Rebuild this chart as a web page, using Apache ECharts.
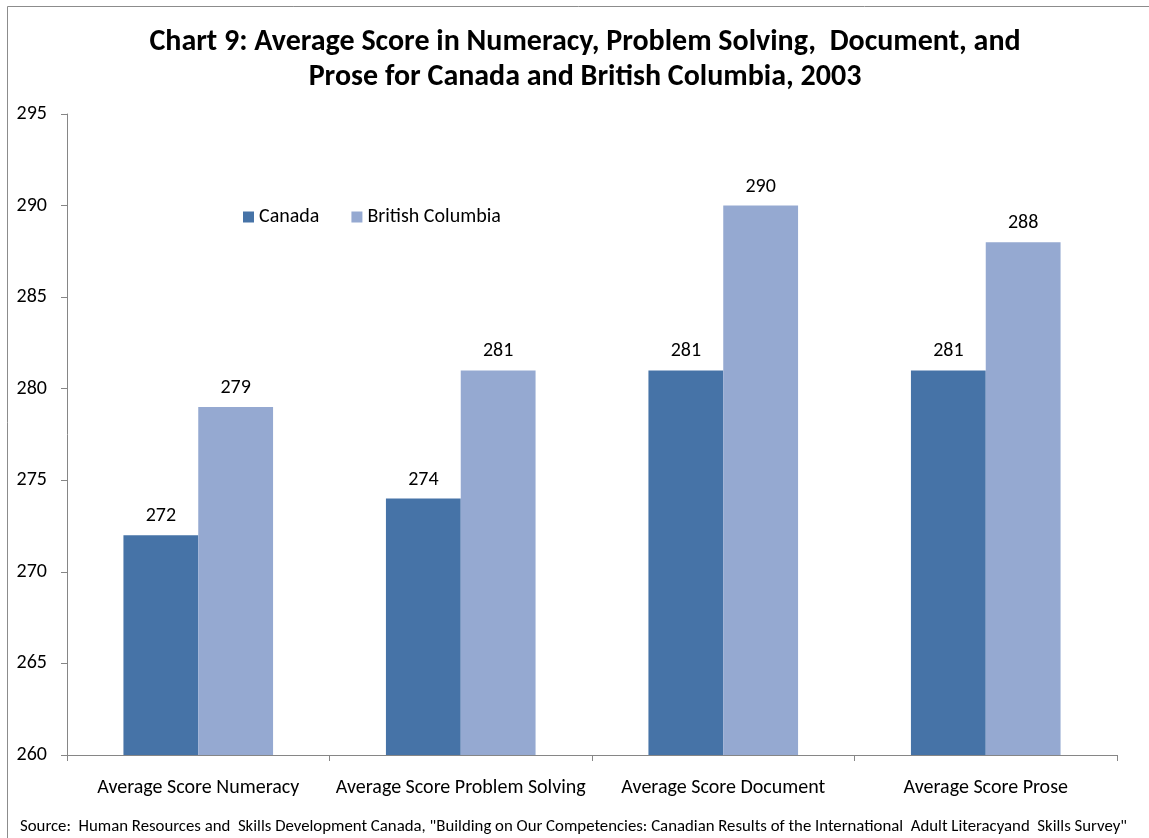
<!DOCTYPE html>
<html>
<head>
<meta charset="UTF-8">
<script src="https://cdn.jsdelivr.net/npm/echarts@6/dist/echarts.min.js"></script>
<style>
  html, body { margin: 0; padding: 0; background: #fff; }
  #main { width: 1149px; height: 838px; }
</style>
</head>
<body>
<div id="main"></div>
<script type="text/javascript">
var categories = ['Average Score Numeracy', 'Average Score Problem Solving', 'Average Score Document', 'Average Score Prose'];
var canada = [272, 274, 281, 281];
var britishColumbia = [279, 281, 290, 288];
var yTicks = [260, 265, 270, 275, 280, 285, 290, 295];

var font = 'Carlito, Lato, "Open Sans", sans-serif';
var chart = echarts.init(document.getElementById('main'));

var option = {
    backgroundColor: '#fff',
    animation: false,
    textStyle: { fontFamily: font },
    title: {
        text: 'Chart 9: Average Score in Numeracy, Problem Solving,  Document, and\nProse for Canada and British Columbia, 2003',
        left: 580,
        top: 20,
        textAlign: 'center',
        textStyle: { fontSize: 30, fontWeight: 'bold', color: '#000', lineHeight: 35, fontFamily: font }
    },
    graphic: [
        // outer frame
        { type: 'rect', shape: { x: 7.5, y: 6.5, width: 1160, height: 860 }, style: { fill: 'none', stroke: '#8c8c8c', lineWidth: 1 } },
        { type: 'text', left: 20, top: 818, style: { text: 'Source:  Human Resources and  Skills Development Canada, "Building on Our Competencies: Canadian Results of the International  Adult Literacyand  Skills Survey"', fontSize: 16.8, fill: '#000', fontFamily: font } }
    ],
    legend: {
        data: ['Canada', 'British Columbia'],
        left: 238,
        top: 202,
        itemWidth: 11,
        itemHeight: 11,
        itemGap: 32,
        icon: 'rect',
        textStyle: { fontSize: 20, color: '#000', fontFamily: font }
    },
    grid: { left: 67, right: 32, top: 114, bottom: 83, containLabel: false },
    xAxis: {
        type: 'category',
        data: categories,
        axisLine: { lineStyle: { color: '#868686' } },
        axisTick: { show: true, length: 6, lineStyle: { color: '#868686' } },
        axisLabel: { interval: 0, fontSize: 20, color: '#000', margin: 23, fontFamily: font }
    },
    yAxis: {
        type: 'value',
        min: yTicks[0],
        max: yTicks[yTicks.length - 1],
        interval: 5,
        splitLine: { show: false },
        axisLine: { show: true, lineStyle: { color: '#868686' } },
        axisTick: { show: true, length: 6, lineStyle: { color: '#868686' } },
        axisLabel: { fontSize: 20, color: '#000', margin: 20, fontFamily: font }
    },
    series: [
        {
            name: 'Canada',
            type: 'bar',
            data: canada,
            barGap: '0%',
            barCategoryGap: '43%',
            itemStyle: { color: '#4673a7' },
            label: { show: true, position: 'top', distance: 9, fontSize: 20, color: '#000', fontFamily: font }
        },
        {
            name: 'British Columbia',
            type: 'bar',
            data: britishColumbia,
            barGap: '0%',
            barCategoryGap: '43%',
            itemStyle: { color: '#95a9d1' },
            label: { show: true, position: 'top', distance: 9, fontSize: 20, color: '#000', fontFamily: font }
        }
    ]
};

chart.setOption(option);
</script>
</body>
</html>
